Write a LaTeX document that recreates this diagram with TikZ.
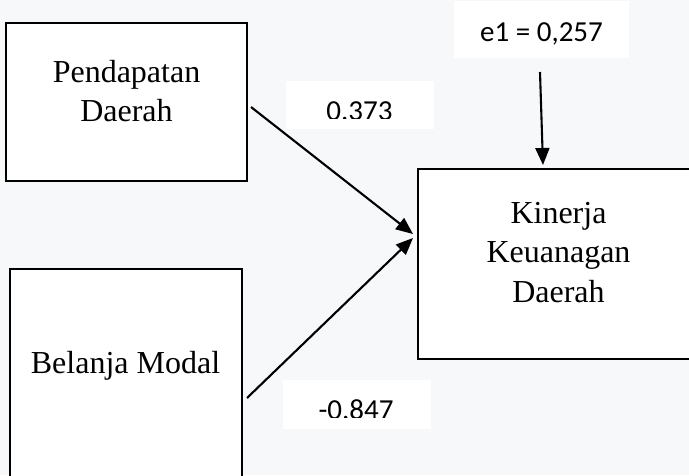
\documentclass[tikz,border=0pt]{standalone}
\usepackage{fontspec}
\setmainfont{Liberation Serif}
\newfontfamily\labfont{Carlito}
\usetikzlibrary{arrows.meta}
\definecolor{bgcol}{RGB}{247,248,250}
\begin{document}
\begin{tikzpicture}[x=1pt,y=-1pt,
  box/.style={draw=black, fill=white, line width=2.6pt, inner sep=0pt, rectangle},
  labbox/.style={fill=white, draw=none, inner sep=0pt, rectangle},
  boxtext/.style={inner sep=0pt, anchor=base, font=\fontsize{32}{39}\selectfont},
  numtext/.style={inner sep=0pt, anchor=base, font=\labfont\fontsize{29}{34}\selectfont},
  conn/.style={line width=2.1pt, -{Triangle[length=17pt,width=14pt]}}]
\fill[bgcol] (0,0) rectangle (689,475);
\useasboundingbox (0,0) rectangle (689,475);
% boxes
\node[box, minimum width=241pt, minimum height=158pt] (pd) at (126.5,102) {};
\node[box, minimum width=232pt, minimum height=216pt] (bm) at (126,377) {};
\node[box, minimum width=281pt, minimum height=190pt] (kkd) at (558.5,264) {};
\node[boxtext] (pdA) at (126.5,82) {Pendapatan};
\node[boxtext] (pdB) at (126.5,121) {Daerah};
\node[boxtext] (bmA) at (125.5,373) {Belanja Modal};
\node[boxtext] (kkdA) at (558.5,223) {Kinerja};
\node[boxtext] (kkdB) at (558.5,262) {Keuanagan};
\node[boxtext] (kkdC) at (558.5,302) {Daerah};
% label boxes
\node[labbox, minimum width=175pt, minimum height=57pt] (e1) at (541.5,29.5) {};
\node[numtext] (e1t) at (541.5,41) {e1 = 0,257};
\node[labbox, minimum width=148pt, minimum height=48pt] (l1) at (360,105) {};
\node[labbox, minimum width=148pt, minimum height=49pt] (l2) at (357,404.5) {};
\begin{scope}
\clip (286,81) rectangle (434,118);
\node[numtext] (l1t) at (359.5,120) {0.373};
\end{scope}
\begin{scope}
\clip (283,380) rectangle (431,417);
\node[numtext] (l2t) at (356,419) {-0.847};
\end{scope}
% connectors
\coordinate (a1s) at (251,107);
\coordinate (a2s) at (247,398);
\coordinate (tipA) at (413,234);
\coordinate (tipB) at (413,238);
\coordinate (e1s) at (540,72);
\coordinate (e1e) at (543,165);
\draw[conn] (a1s) -- (tipA);
\draw[conn] (a2s) -- (tipB);
\draw[conn] (e1s) -- (e1e);
\end{tikzpicture}
\end{document}
